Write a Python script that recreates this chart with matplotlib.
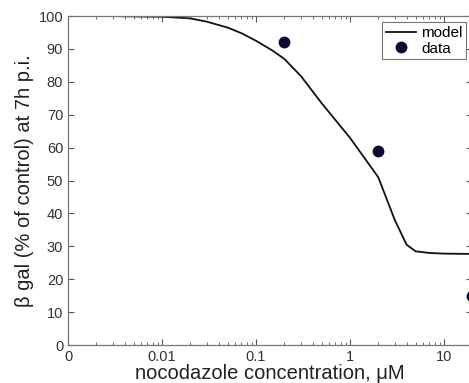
import numpy as np
import matplotlib.pyplot as plt
from matplotlib.ticker import FixedLocator, FixedFormatter, LogLocator, NullFormatter

# model curve
model_conc = [0.0014, 0.003, 0.005, 0.01, 0.02, 0.03, 0.05, 0.07, 0.1, 0.15,
              0.2, 0.3, 0.5, 1, 1.5, 2, 3, 4, 5, 7, 10, 20]
model_val = [100, 100, 99.9, 99.8, 99.3, 98.3, 96.5, 94.8, 92.5, 89.5,
             87, 81.8, 73.5, 63, 56, 51, 38, 30.5, 28.5, 28, 27.8, 27.7]

# measured points
data_conc = [0.2, 2, 20]
data_val = [92, 59, 15]

xtick_pos = [0.001, 0.01, 0.1, 1, 10]
xtick_lab = ['0', '0.01', '0.1', '1', '10']
ytick_pos = list(range(0, 101, 10))

plt.rcParams['font.family'] = ['Liberation Sans', 'DejaVu Sans']

fig = plt.figure(figsize=(4.69, 3.83), dpi=100)
ax = fig.add_axes([0.145, 0.099, 0.862, 0.859])

ax.plot(model_conc, model_val, color='#111111', linewidth=1.3, label='model')
ax.plot(data_conc, data_val, 'o', color='#0a0a30', markersize=7.5,
        linestyle='none', label='data', clip_on=False)

ax.set_xscale('log')
ax.set_xlim(0.001, 20)
ax.set_ylim(0, 100)

ax.xaxis.set_major_locator(FixedLocator(xtick_pos))
ax.xaxis.set_major_formatter(FixedFormatter(xtick_lab))
ax.xaxis.set_minor_locator(LogLocator(base=10, subs=np.arange(2, 10)))
ax.xaxis.set_minor_formatter(NullFormatter())
ax.set_yticks(ytick_pos)

ax.tick_params(which='both', direction='in', top=True, right=True,
               colors='#555555', labelcolor='#333333', labelsize=10.5)
ax.tick_params(which='major', length=4, width=0.8)
ax.tick_params(which='minor', length=2.5, width=0.6)
for s in ax.spines.values():
    s.set_color('#777777')
    s.set_linewidth(0.9)

ax.set_xlabel('nocodazole concentration, \u03bcM', fontsize=14.5, color='#222222', labelpad=0)
ax.set_ylabel('\u03b2 gal (% of control) at 7h p.i.', fontsize=14.5, color='#222222', labelpad=3)

leg = ax.legend(loc='upper right', fontsize=11, frameon=True, fancybox=False,
                borderpad=0.25, handlelength=2.0, handletextpad=0.3,
                labelspacing=0.1, borderaxespad=0.4)
leg.get_frame().set_edgecolor('#555555')
leg.get_frame().set_linewidth(0.8)

fig.savefig('out.png', dpi=100)
